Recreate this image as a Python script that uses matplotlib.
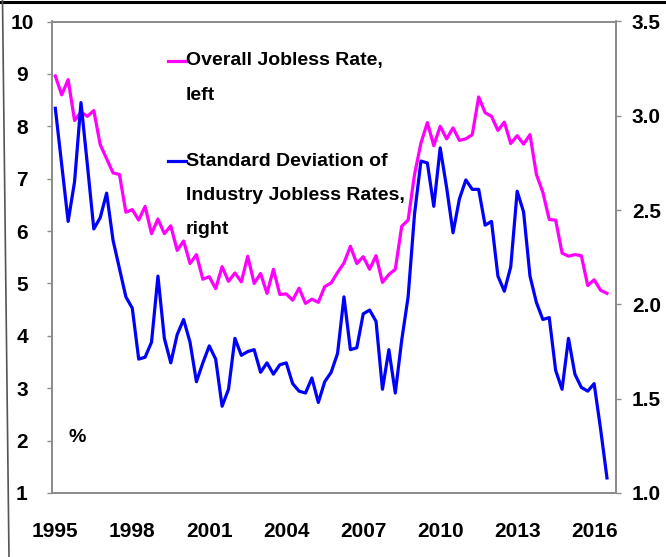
import numpy as np
import matplotlib
matplotlib.use('Agg')
import matplotlib.pyplot as plt
from matplotlib.lines import Line2D

plt.rcParams['font.family'] = ['Liberation Sans', 'DejaVu Sans']
plt.rcParams['font.weight'] = 'bold'

# quarterly data, 1995Q1 .. 2016Q3
start_year = 1995
jobless = [8.96, 8.60, 8.89, 8.11, 8.27, 8.19, 8.30, 7.65, 7.38, 7.11,
           7.08, 6.36, 6.41, 6.21, 6.47, 5.95, 6.23, 5.95, 6.10, 5.63,
           5.81, 5.38, 5.55, 5.08, 5.13, 4.90, 5.32, 5.04, 5.20, 5.03,
           5.52, 5.00, 5.19, 4.81, 5.27, 4.79, 4.80, 4.68, 4.91, 4.62,
           4.70, 4.64, 4.94, 5.01, 5.21, 5.39, 5.71, 5.38, 5.51, 5.27,
           5.53, 5.02, 5.17, 5.27, 6.09, 6.21, 7.08, 7.68, 8.07, 7.63,
           8.00, 7.76, 7.97, 7.73, 7.76, 7.84, 8.56, 8.26, 8.19, 7.92,
           8.08, 7.67, 7.82, 7.66, 7.84, 7.08, 6.74, 6.22, 6.21, 5.58,
           5.52, 5.55, 5.53, 4.96, 5.07, 4.87, 4.81]
std_dev = [3.04, 2.74, 2.44, 2.65, 3.07, 2.74, 2.40, 2.46, 2.59, 2.34,
           2.19, 2.04, 1.98, 1.71, 1.72, 1.80, 2.15, 1.82, 1.69, 1.84,
           1.92, 1.80, 1.59, 1.69, 1.78, 1.71, 1.46, 1.55, 1.82, 1.73,
           1.75, 1.76, 1.64, 1.69, 1.63, 1.68, 1.69, 1.58, 1.54, 1.53,
           1.61, 1.48, 1.59, 1.64, 1.74, 2.04, 1.76, 1.77, 1.95, 1.97,
           1.91, 1.55, 1.76, 1.53, 1.81, 2.04, 2.48, 2.76, 2.75, 2.52,
           2.83, 2.62, 2.38, 2.56, 2.66, 2.61, 2.61, 2.42, 2.44, 2.15,
           2.07, 2.20, 2.60, 2.49, 2.15, 2.01, 1.92, 1.93, 1.65, 1.55,
           1.82, 1.63, 1.56, 1.54, 1.58, 1.34, 1.08]
year_ticks = [1995, 1998, 2001, 2004, 2007, 2010, 2013, 2016]
left_ticks = [1, 2, 3, 4, 5, 6, 7, 8, 9, 10]
right_ticks = [1.0, 1.5, 2.0, 2.5, 3.0, 3.5]

x = start_year + np.arange(len(jobless)) / 4.0

W, H = 666, 557
FS_TICK = 15
FS_TEXT = 14
fig = plt.figure(figsize=(W / 100, H / 100), dpi=100)
ax = fig.add_axes([52 / W, 64 / H, (615.7 - 52) / W, 471.5 / H])
ax2 = ax.twinx()

magenta = '#FF00FF'
blue = '#0000FF'
ax.plot(x, jobless, color=magenta, lw=2.3, zorder=3)
ax2.plot(x, std_dev, color=blue, lw=2.3, zorder=3)

ax.set_xlim(1994.871, 2016.84)
ax.set_ylim(1, 10)
ax2.set_ylim(1.0, 3.5)

grey = '#8c8c8c'
for a in (ax, ax2):
    for s in a.spines.values():
        s.set_color(grey)
        s.set_linewidth(1.3)

ax.set_xticks(year_ticks)
ax.set_xticklabels([str(y) for y in year_ticks])
ax.tick_params(axis='x', length=0, pad=21, labelsize=FS_TICK)

ax.set_yticks(left_ticks)
ax.set_yticklabels([str(v) for v in left_ticks])
ax.tick_params(axis='y', length=3.6, width=1, color=grey, pad=18, labelsize=FS_TICK)
for lab in ax.get_yticklabels():
    lab.set_horizontalalignment('center')

ax2.set_yticks(right_ticks)
ax2.set_yticklabels([f'{v:.1f}' for v in right_ticks])
ax2.tick_params(axis='y', length=3.6, width=1, color=grey, pad=8, labelsize=FS_TICK)

# legend drawn by hand so the sample line sits on the first text line
def legend_entry(ypix, color, lines):
    yy = 1 - (ypix - 21.5) / 471.5
    x0 = (168 - 52) / (615.7 - 52)
    x1 = (186 - 52) / (615.7 - 52)
    ax.add_line(Line2D([x0, x1], [yy, yy], transform=ax.transAxes, color=color, lw=2.3))
    for k, t in enumerate(lines):
        ax.text(x1, yy - k * 34 / 471.5, t, transform=ax.transAxes,
                ha='left', va='center', fontsize=FS_TEXT)

legend_entry(61, magenta, ['Overall Jobless Rate,', 'left'])
legend_entry(161, blue, ['Standard Deviation of', 'Industry Jobless Rates,', 'right'])

ax.text((77 - 52) / (615.7 - 52), 1 - (437 - 21.5) / 471.5, '%', transform=ax.transAxes,
        ha='center', va='center', fontsize=FS_TEXT)

# screenshot frame
fig.add_artist(Line2D([0, 1], [1 - 1.5 / H, 1 - 1.5 / H], transform=fig.transFigure, color='black', lw=2.2))
fig.add_artist(Line2D([2.5 / W, 9 / W], [1, 0], transform=fig.transFigure, color='#555555', lw=1.2))

fig.savefig('out.png', dpi=100)
